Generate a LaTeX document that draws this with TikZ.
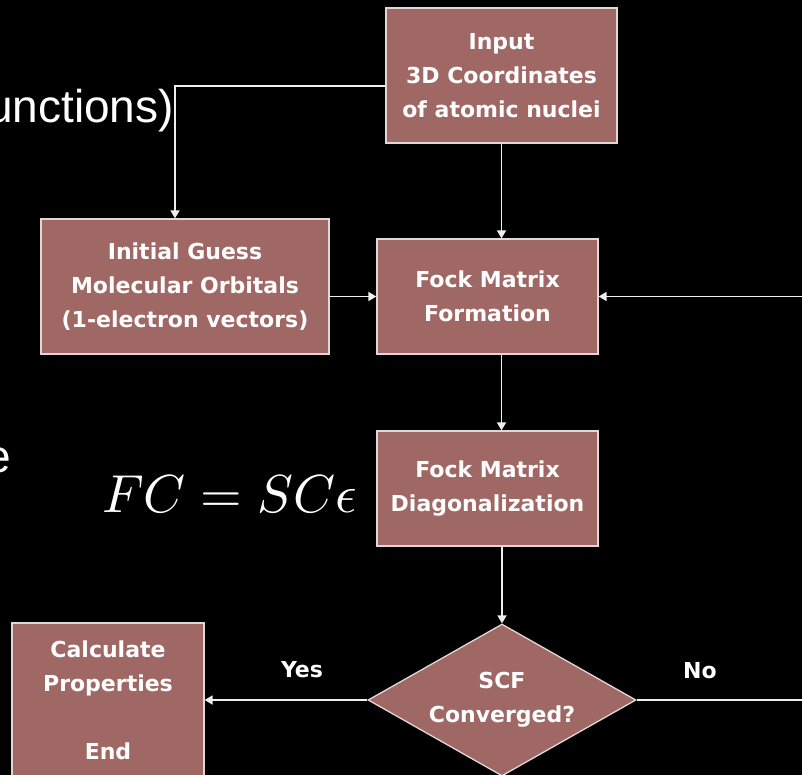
\documentclass[tikz,border=0pt]{standalone}
\usepackage{graphicx}
\usepackage{fontspec}
\setmainfont{DejaVu Sans}
\newfontfamily\boxfont{DejaVu Sans}
\newfontfamily\slidefont{Liberation Sans}
\usetikzlibrary{arrows.meta,shapes.geometric}
\definecolor{boxfill}{RGB}{160,104,100}
\definecolor{boxline}{RGB}{225,215,215}
\definecolor{linecol}{RGB}{238,238,238}
\tikzset{
  stepbox/.style={draw=boxline, line width=1.3pt, fill=boxfill, text=white,
    align=center, inner sep=0pt,
    font=\boxfont\bfseries\fontsize{22}{34}\selectfont},
  decbox/.style={stepbox, shape=diamond, aspect=1.76},
  conn/.style={draw=linecol, line width=1.7pt, -{Triangle[width=9pt,length=8pt]}},
  lbl/.style={text=white, font=\boxfont\bfseries\fontsize{22}{34}\selectfont, inner sep=0pt},
  bigtext/.style={text=white, font=\slidefont\fontsize{46}{52}\selectfont, inner sep=0pt}
}
\begin{document}
\begin{tikzpicture}[x=1pt,y=-1pt]
\fill[black] (0,0) rectangle (802,775);
\useasboundingbox (0,0) rectangle (802,775);
\clip (0,0) rectangle (802,775);

% slide text fragments (cut at the left edge, as in the reference)
\node[bigtext, anchor=base east] (frag1) at (174,123) {unctions)};
\node[bigtext, anchor=base east] (frag2) at (11,472) {e};
\node[text=white, inner sep=0pt, anchor=base west] (eq) at (102,512)
  {\scalebox{5.35}{$FC = SC\epsilon$}};

% boxes
\node[stepbox, minimum width=231pt, minimum height=135pt] (input) at (501.5,75.5)
  {Input\\3D Coordinates\\of atomic nuclei};
\node[stepbox, minimum width=288pt, minimum height=135pt] (guess) at (185,286.5)
  {Initial Guess\\Molecular Orbitals\\(1-electron vectors)};
\node[stepbox, minimum width=221pt, minimum height=115pt] (form) at (487.5,296.5)
  {Fock Matrix\\Formation};
\node[stepbox, minimum width=221pt, minimum height=115pt] (diag) at (487.5,488.5)
  {Fock Matrix\\Diagonalization};
\node[stepbox, minimum width=192pt, minimum height=155pt] (calc) at (108,700.5)
  {Calculate\\Properties\\[34pt]End};
\node[decbox, minimum width=268pt, minimum height=152pt] (conv) at (502,700)
  {SCF\\Converged?};

% labels
\node[lbl] (yes) at (302,670) {Yes};
\node[lbl] (no) at (700,671) {No};

% loop-back coordinates (beyond the right edge)
\coordinate (loopb) at (830,700);
\coordinate (loopt) at (830,296.5);

% connectors
\draw[conn] ([yshift=-10.5pt]input.west) -| ([xshift=-10pt]guess.north);
\draw[conn] (input.south) -- (input.south |- form.north);
\draw[conn] (guess.east |- form.west) -- (form.west);
\draw[conn] (input.south |- form.south) -- (input.south |- diag.north);
\draw[conn] (conv.north |- diag.south) -- (conv.north);
\draw[conn] (conv.west) -- (calc.east |- conv.west);
\draw[conn] (conv.east) -- (loopb) -- (loopt) -- (form.east);
\end{tikzpicture}
\end{document}
